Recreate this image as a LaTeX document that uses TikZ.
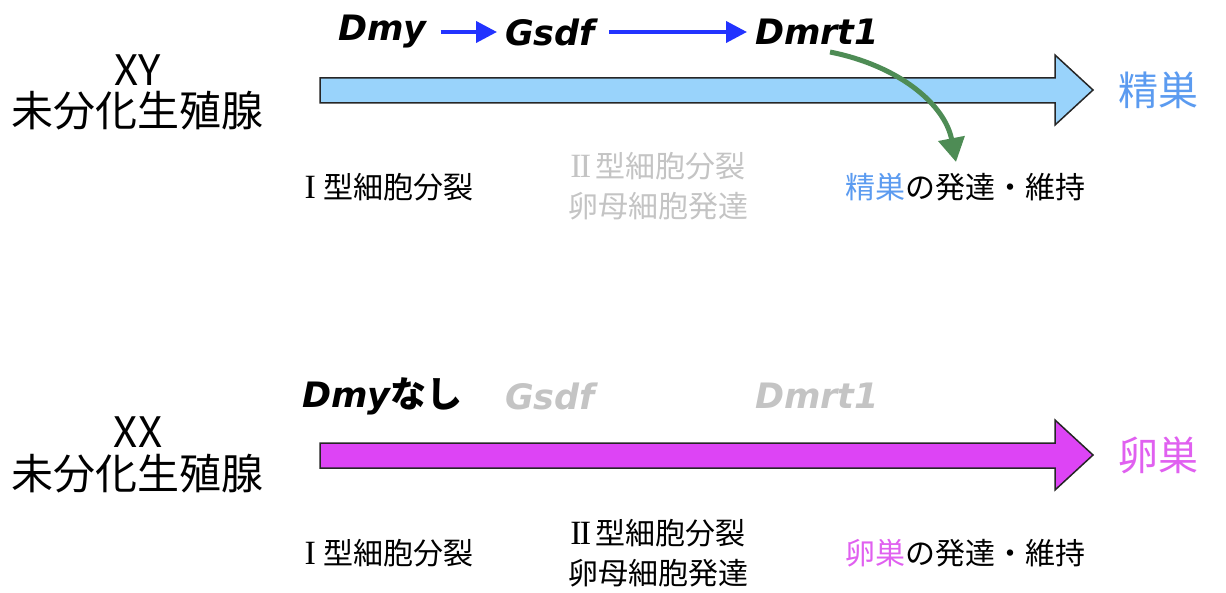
\documentclass[tikz,border=0pt]{standalone}
\usepackage{fontspec}
\setmainfont{Noto Sans CJK JP}
\newfontfamily\latinbi{DejaVu Sans}[BoldItalicFont={DejaVu Sans Bold Oblique}]
\newfontfamily\romnum{Liberation Serif}
\newcommand{\RomI}{{\romnum\fontsize{34}{40}\selectfont I}\kern0.25em}
\newcommand{\RomII}{{\romnum\fontsize{34}{40}\selectfont I\kern-0.05em I}\kern0.15em}
\usetikzlibrary{arrows.meta}
\definecolor{skyfill}{HTML}{99D3FB}
\definecolor{magfill}{HTML}{DD44F5}
\definecolor{skylab}{HTML}{5B9BF0}
\definecolor{maglab}{HTML}{E060F0}
\definecolor{genblue}{HTML}{2233FF}
\definecolor{lightgr}{HTML}{C4C4C4}
\definecolor{arrgreen}{HTML}{4E8C55}
\tikzset{
  gene/.style={inner sep=0pt, font=\latinbi\bfseries\itshape\fontsize{35}{38}\selectfont},
  big/.style={inner sep=0pt, font=\fontsize{42}{48}\selectfont},
  organ/.style={inner sep=0pt, font=\fontsize{40}{46}\selectfont},
  stage/.style={inner sep=0pt, font=\fontsize{30}{40}\selectfont, align=center},
  genearrow/.style={genblue, line width=4pt, -{Triangle[width=21pt,length=21pt]}},
  bigarrow/.style={draw=black!85, line width=1.5pt, line join=miter},
}
\begin{document}
\begin{tikzpicture}[x=1pt,y=-1pt]
\useasboundingbox (0,0) rectangle (1226,593);
% ---------- XY row ----------
\node[big] (xy) at (138,70) {XY};
\node[big] (xyg) at (138,111) {未分化生殖腺};
\fill[skyfill] (320,78) -- (1055,78) -- (1055,55) -- (1093,90) -- (1055,125) -- (1055,103) -- (320,103) -- cycle;
\draw[bigarrow] (320,78) -- (1055,78) -- (1055,55) -- (1093,90) -- (1055,125) -- (1055,103) -- (320,103) -- cycle;
\node[organ, text=skylab, anchor=west] (testis) at (1118,90) {精巣};
\node[gene, anchor=west] (dmy) at (338,32) {Dmy};
\node[gene, anchor=west] (gsdf) at (505,32) {Gsdf};
\node[gene, anchor=west] (dmrt) at (755,32) {Dmrt1};
\draw[genearrow] ([xshift=14pt]dmy.east) -- ([xshift=-8pt]gsdf.west);
\draw[genearrow] ([xshift=14pt]gsdf.east) -- ([xshift=-8pt]dmrt.west);
\node[stage] (t1) at (389,187) {\RomI 型細胞分裂};
\node[stage, text=lightgr] (t2) at (658,186) {\RomII 型細胞分裂\\卵母細胞発達};
\node[stage] (t3) at (965,187) {\textcolor{skylab}{精巣}の発達・維持};
\coordinate (gs) at (830,52);
\coordinate (ge) at (956,162);
\draw[arrgreen, line width=5pt, -{Triangle[width=26pt,length=24pt]}] (gs) .. controls (900,66) and (945,105) .. (ge);
% ---------- XX row ----------
\node[big] (xx) at (138,432) {XX};
\node[big] (xxg) at (138,474) {未分化生殖腺};
\fill[magfill] (320,443) -- (1055,443) -- (1055,420) -- (1093,455) -- (1055,490) -- (1055,468) -- (320,468) -- cycle;
\draw[bigarrow] (320,443) -- (1055,443) -- (1055,420) -- (1093,455) -- (1055,490) -- (1055,468) -- (320,468) -- cycle;
\node[organ, text=maglab, anchor=west] (ovary) at (1118,455) {卵巣};
\node[gene, anchor=west] (dmy2) at (302,396) {Dmy{\normalfont\bfseries\fontsize{36}{40}\selectfont なし}};
\node[gene, anchor=west, text=lightgr] (gsdf2) at (505,396) {Gsdf};
\node[gene, anchor=west, text=lightgr] (dmrt2) at (755,396) {Dmrt1};
\node[stage] (b1) at (389,553) {\RomI 型細胞分裂};
\node[stage] (b2) at (658,553) {\RomII 型細胞分裂\\卵母細胞発達};
\node[stage] (b3) at (965,553) {\textcolor{maglab}{卵巣}の発達・維持};
\end{tikzpicture}
\end{document}
